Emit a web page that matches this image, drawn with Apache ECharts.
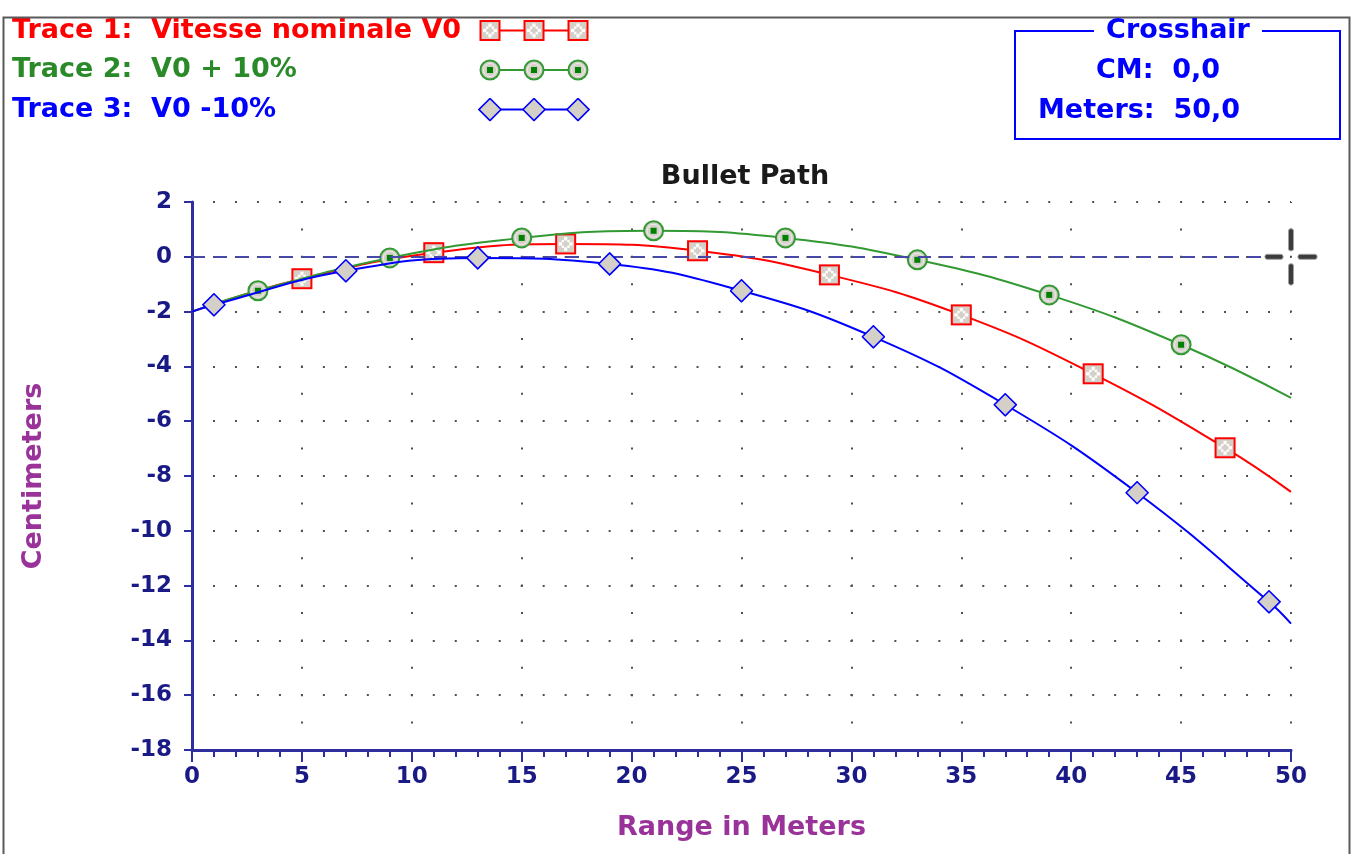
<!DOCTYPE html>
<html>
<head>
<meta charset="utf-8">
<script src="https://cdn.jsdelivr.net/npm/echarts@6/dist/echarts.min.js"></script>
<style>
html,body{margin:0;padding:0;background:#fff;}
#chart{width:1352px;height:854px;}
</style>
</head>
<body>
<div id="chart"></div>
<script>
// ---- data ----
const traceNames = ['Trace 1:  Vitesse nominale V0', 'Trace 2:  V0 + 10%', 'Trace 3:  V0 -10%'];
const redRange = [0, 5, 11, 17, 23, 29, 35, 41, 47, 50];
const redCm = [-2.0, -0.80, 0.15, 0.47, 0.22, -0.66, -2.12, -4.27, -6.97, -8.58];
const greenRange = [0, 3, 9, 15, 21, 27, 33, 39, 45, 50];
const greenCm = [-2.0, -1.24, -0.04, 0.69, 0.95, 0.69, -0.11, -1.39, -3.21, -5.15];
const blueRange = [0, 1, 7, 13, 19, 25, 31, 37, 43, 49, 50];
const blueCm = [-2.0, -1.75, -0.51, -0.04, -0.26, -1.24, -2.92, -5.40, -8.61, -12.59, -13.39];
const crosshairCm = '0,0';
const crosshairMeters = '50,0';
const crosshairPos = [50, 0];
const xTicks = { min: 0, max: 50, interval: 5 };
const yTicks = { min: -18, max: 2, interval: 2 };

// ---- styling ----
const FONT = '"DejaVu Sans", Verdana, sans-serif';
const AXIS = '#2e2e9c';
const LABEL = '#1a1a86';
const PURPLE = '#993399';
const RED = '#ff0000', GREEN = '#339933', BLUE = '#0000ff';
const GRAYFILL = '#d4d0c8';

function svgUrl(s) { return 'image://data:image/svg+xml;charset=utf-8,' + encodeURIComponent(s); }
function rawUrl(s) { return 'data:image/svg+xml;charset=utf-8,' + encodeURIComponent(s); }

function redMark(cx, cy) {
  return `<rect x="${cx-9.5}" y="${cy-9.5}" width="19" height="19" fill="${GRAYFILL}" stroke="${RED}" stroke-width="2"/>` +
    `<rect x="${cx-1.6}" y="${cy-7}" width="3.2" height="3.5" fill="#fff"/><rect x="${cx-1.6}" y="${cy+3.5}" width="3.2" height="3.5" fill="#fff"/>` +
    `<rect x="${cx-7}" y="${cy-1.6}" width="3.5" height="3.2" fill="#fff"/><rect x="${cx+3.5}" y="${cy-1.6}" width="3.5" height="3.2" fill="#fff"/>` +
    `<rect x="${cx-4}" y="${cy-4}" width="2.4" height="2.4" fill="#fff"/><rect x="${cx+1.6}" y="${cy-4}" width="2.4" height="2.4" fill="#fff"/>` +
    `<rect x="${cx-4}" y="${cy+1.6}" width="2.4" height="2.4" fill="#fff"/><rect x="${cx+1.6}" y="${cy+1.6}" width="2.4" height="2.4" fill="#fff"/>`;
}
function greenMark(cx, cy) {
  return `<circle cx="${cx}" cy="${cy}" r="9.5" fill="${GRAYFILL}" stroke="${GREEN}" stroke-width="2"/>` +
    `<circle cx="${cx}" cy="${cy}" r="6.5" fill="none" stroke="#eeeeee" stroke-width="1"/>` +
    `<rect x="${cx-3}" y="${cy-3}" width="6" height="6" fill="#008000"/>`;
}
function blueMark(cx, cy) {
  return `<polygon points="${cx},${cy-11} ${cx+11},${cy} ${cx},${cy+11} ${cx-11},${cy}" fill="${GRAYFILL}" stroke="${BLUE}" stroke-width="1.6"/>`;
}
const markFns = [redMark, greenMark, blueMark];
const colors = [RED, GREEN, BLUE];
const textColors = ['#ff0000', '#2a8a2a', '#0000ff'];

function symbolSvg(i) {
  return `<svg xmlns="http://www.w3.org/2000/svg" width="24" height="24" viewBox="0 0 24 24">${markFns[i](12, 12)}</svg>`;
}
function legendSvg(i) {
  return `<svg xmlns="http://www.w3.org/2000/svg" width="112" height="24" viewBox="0 0 112 24">` +
    `<line x1="2" y1="12" x2="110" y2="12" stroke="${colors[i]}" stroke-width="2"/>` +
    markFns[i](12, 12) + markFns[i](56, 12) + markFns[i](100, 12) + `</svg>`;
}
const crossSvg = `<svg xmlns="http://www.w3.org/2000/svg" width="56" height="58" viewBox="0 0 56 58">` +
  `<g fill="#3c3c3c" stroke="#a0a0a0" stroke-width="1">` +
  `<rect x="25.5" y="1" width="5" height="22" rx="2"/>` +
  `<rect x="25.5" y="36" width="5" height="21" rx="2"/>` +
  `<rect x="2" y="26.5" width="18" height="5" rx="2"/>` +
  `<rect x="35" y="26.5" width="19" height="5" rx="2"/></g></svg>`;

function buildData(xs, ys) {
  return xs.map((x, k) => {
    const item = { value: [x, ys[k]] };
    if (x === xTicks.min || x === xTicks.max) item.symbol = 'none';
    return item;
  });
}
const ranges = [redRange, greenRange, blueRange];
const cms = [redCm, greenCm, blueCm];

const rich = {};
traceNames.forEach((n, i) => {
  rich['t' + i] = { color: textColors[i], fontFamily: FONT, fontWeight: 'bold', fontSize: 27, width: 466 };
  rich['i' + i] = { width: 112, height: 24, backgroundColor: { image: rawUrl(legendSvg(i)) } };
});

const series = traceNames.map((n, i) => ({
  name: n,
  type: 'line',
  data: buildData(ranges[i], cms[i]),
  smooth: 0.45,
  symbol: svgUrl(symbolSvg(i)),
  symbolSize: 24,
  showAllSymbol: true,
  lineStyle: { color: colors[i], width: 2 },
  itemStyle: { color: colors[i] },
  emphasis: { disabled: true },
  z: 3 + i
}));
series[0].markLine = {
  silent: true, symbol: 'none', label: { show: false },
  lineStyle: { color: '#4848a8', width: 2, type: [13, 9] },
  data: [{ yAxis: 0 }]
};
series[0].markPoint = {
  silent: true, label: { show: false },
  symbol: svgUrl(crossSvg), symbolSize: [56, 58], symbolOffset: [0, 0],
  data: [{ coord: crosshairPos }]
};

const chart = echarts.init(document.getElementById('chart'), null, { renderer: 'canvas' });
chart.setOption({
  animation: false,
  backgroundColor: '#ffffff',
  title: {
    text: 'Bullet Path', left: 740, top: 158, textAlign: 'center',
    textStyle: { color: '#1a1a1a', fontFamily: FONT, fontWeight: 'bold', fontSize: 27 }
  },
  legend: {
    orient: 'vertical', left: 7, top: 17, itemWidth: 0, itemHeight: 0, itemGap: 12.5,
    icon: 'rect', padding: 0,
    data: traceNames,
    formatter: name => { const i = traceNames.indexOf(name); return `{t${i}|${name}}{i${i}|}`; },
    textStyle: { rich: rich }
  },
  grid: { left: 192, right: 61, top: 202, bottom: 104, containLabel: false, outerBoundsMode: 'none' },
  xAxis: {
    type: 'value', min: xTicks.min, max: xTicks.max, interval: xTicks.interval,
    name: 'Range in Meters', nameLocation: 'middle', nameGap: 64,
    nameTextStyle: { color: PURPLE, fontFamily: FONT, fontWeight: 'bold', fontSize: 27 },
    axisLine: { show: true, onZero: false, lineStyle: { color: AXIS, width: 3 } },
    axisTick: { show: true, inside: false, length: 12, lineStyle: { color: AXIS, width: 2 } },
    minorTick: { show: true, splitNumber: 5, length: 7, lineStyle: { color: AXIS, width: 2 } },
    axisLabel: { color: LABEL, fontFamily: FONT, fontWeight: 'bold', fontSize: 23, margin: 16 },
    splitLine: { show: true, lineStyle: { color: '#505050', width: 2, type: [2, 25.4], dashOffset: 1 } }
  },
  yAxis: {
    type: 'value', min: yTicks.min, max: yTicks.max, interval: yTicks.interval,
    name: 'Centimeters', nameLocation: 'middle', nameRotate: 90, nameGap: 145,
    nameTextStyle: { color: PURPLE, fontFamily: FONT, fontWeight: 'bold', fontSize: 27 },
    axisLine: { show: true, onZero: false, lineStyle: { color: AXIS, width: 3 } },
    axisTick: { show: true, inside: false, length: 8, lineStyle: { color: AXIS, width: 2 } },
    axisLabel: { color: LABEL, fontFamily: FONT, fontWeight: 'bold', fontSize: 23, margin: 20 },
    splitLine: { show: true, lineStyle: { color: '#505050', width: 2, type: [2, 19.98], dashOffset: 1 } }
  },
  series: series,
  graphic: [
    { type: 'rect', left: 1, top: 15, shape: { x: 0, y: 0, width: 1346, height: 860 }, style: { fill: 'none', stroke: '#5a5a5a', lineWidth: 2 }, silent: true, z: 100 },
    { type: 'rect', shape: { x: 1015, y: 31, width: 325, height: 108 }, style: { fill: 'none', stroke: '#0000ff', lineWidth: 2 }, silent: true },
    { type: 'rect', shape: { x: 1094, y: 20, width: 168, height: 22 }, style: { fill: '#ffffff' }, silent: true, z: 101 },
    { type: 'text', x: 1178, y: 31, style: { text: 'Crosshair', fill: '#0000ff', font: 'bold 27px ' + FONT, align: 'center', verticalAlign: 'middle' }, silent: true, z: 102 },
    { type: 'text', x: 1158, y: 71, style: { text: 'CM:  ' + crosshairCm, fill: '#0000ff', font: 'bold 27px ' + FONT, align: 'center', verticalAlign: 'middle' }, silent: true, z: 102 },
    { type: 'text', x: 1038, y: 111, style: { text: 'Meters:  ' + crosshairMeters, fill: '#0000ff', font: 'bold 27px ' + FONT, align: 'left', verticalAlign: 'middle' }, silent: true, z: 102 }
  ]
});
</script>
</body>
</html>
